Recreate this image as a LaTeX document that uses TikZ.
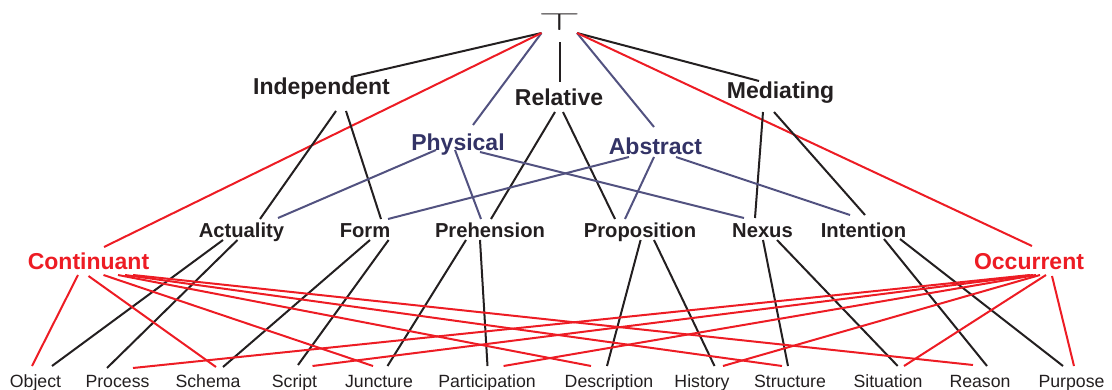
\documentclass[tikz,border=0pt]{standalone}
\usepackage{fontspec}
\setmainfont{Liberation Sans}
\usepackage{graphicx}

\definecolor{ink}{RGB}{35,31,32}
\definecolor{occred}{RGB}{237,28,36}
\definecolor{slatetext}{RGB}{51,51,102}
\definecolor{slateline}{RGB}{82,82,128}

\tikzset{
  lbl/.style={anchor=base, inner sep=0pt},
  upper/.style={lbl, text=ink, font=\fontsize{23}{23}\selectfont\bfseries},
  blue/.style={lbl, text=slatetext, font=\fontsize{23}{23}\selectfont\bfseries},
  redcat/.style={lbl, text=occred, font=\fontsize{23}{23}\selectfont\bfseries},
  middle/.style={lbl, text=ink, font=\fontsize{20.2}{20.2}\selectfont\bfseries},
  leaf/.style={lbl, text=ink, font=\fontsize{17.7}{17.7}\selectfont},
  blackedge/.style={draw=ink, line width=2pt},
  blueedge/.style={draw=slateline, line width=2pt},
  rededge/.style={draw=occred, line width=2pt},
}

\begin{document}
\begin{tikzpicture}[x=1pt, y=-1pt]
\useasboundingbox (0,0) rectangle (1112,390);

% top of the lattice
\node[anchor=south, inner sep=0pt, text=ink] (top) at (559.5,30.5)
  {\scalebox{2.2}[1]{\fontsize{25}{25}\selectfont$\top$}};

% second level
\node[upper] (ind) at (321.5,95) {Independent};
\node[upper] (rel) at (559,106) {Relative};
\node[upper] (med) at (780.5,99) {Mediating};
\node[blue]  (phy) at (458,151) {Physical};
\node[blue]  (abs) at (655.5,155) {Abstract};
\node[redcat] (con) at (88.5,270) {Continuant};
\node[redcat] (occ) at (1029,270) {Occurrent};

% third level
\node[middle] (act) at (241.5,238) {Actuality};
\node[middle] (frm) at (365,238) {Form};
\node[middle] (pre) at (490,238) {Prehension};
\node[middle] (pro) at (640,238) {Proposition};
\node[middle] (nex) at (762.5,238) {Nexus};
\node[middle] (int) at (863.5,238) {Intention};

% the twelve categories
\node[leaf] (obj) at (35.5,387) {Object};
\node[leaf] (prc) at (117.5,387) {Process};
\node[leaf] (sch) at (208,387) {Schema};
\node[leaf] (scr) at (294.5,387) {Script};
\node[leaf] (jun) at (379,387) {Juncture};
\node[leaf] (par) at (487,387) {Participation};
\node[leaf] (des) at (609,387) {Description};
\node[leaf] (his) at (702,387) {History};
\node[leaf] (str) at (790,387) {Structure};
\node[leaf] (sit) at (888,387) {Situation};
\node[leaf] (rea) at (980,387) {Reason};
\node[leaf] (pur) at (1071.5,387) {Purpose};

% edges from the top
\draw[blackedge] ([shift={(-18,2.5)}]top.south) -- ([shift={(29.5,-18)}]ind.base);
\draw[blackedge] ([shift={(0.5,12)}]top.south) -- ([shift={(1,-24)}]rel.base);
\draw[blackedge] ([shift={(17.5,2.5)}]top.south) -- ([shift={(-21.5,-18)}]med.base);
\draw[blueedge] ([shift={(-18,2.5)}]top.south) -- ([shift={(15,-26)}]phy.base);
\draw[blueedge] ([shift={(17.5,2.5)}]top.south) -- ([shift={(-1.5,-28)}]abs.base);
\draw[rededge] ([shift={(-18,2.5)}]top.south) -- ([shift={(15.5,-23)}]con.base);
\draw[rededge] ([shift={(17.5,2.5)}]top.south) -- ([shift={(3,-24)}]occ.base);

% black edges
\foreach \a/\ax/\ay/\b/\bx/\by in {
  ind/14.5/16/act/18.5/-19, ind/24.5/16/frm/16/-19,
  rel/-4/6/pre/1/-19, rel/4/6/pro/-25/-19,
  med/-17.5/13/nex/-7.5/-20, med/-6.5/13/int/1.5/-23,
  act/-18.5/2/obj/16.5/-21, act/-4/2/prc/-10.5/-19,
  frm/5/2/sch/15/-20, frm/23.6/2/scr/3.5/-22,
  pre/-24/2/jun/8.5/-21, pre/-10/2/par/0.5/-21,
  pro/0.6/2/des/-2/-21, pro/14/2/his/12.5/-21,
  nex/0.5/2/str/-2/-21, nex/14.5/2/sit/9.7/-21,
  int/20.5/1/rea/7/-21, int/36.5/1/pur/-8.5/-21}
  \draw[blackedge] ([shift={(\ax,\ay)}]\a.base) -- ([shift={(\bx,\by)}]\b.base);

% physical / abstract edges
\foreach \a/\ax/\ay/\b/\bx/\by in {
  phy/-22/-1/act/36.5/-20, phy/-3/-1/pre/-9/-19, phy/22/1/nex/-18.5/-20,
  abs/-26.5/2/frm/23/-19, abs/-1.5/2/pro/-15/-19, abs/20.5/2/int/-13.5/-23}
  \draw[blueedge] ([shift={(\ax,\ay)}]\a.base) -- ([shift={(\bx,\by)}]\b.base);

% continuant / occurrent edges
\foreach \a/\ax/\ay/\b/\bx/\by in {
  con/-10.5/5/obj/-3.5/-21, con/0/6/sch/8/-20, con/15/5/jun/-6/-21,
  con/29.5/5/des/-18/-21, con/36.5/5/str/-8/-21, con/44.5/5/rea/-7/-22,
  occ/1/5/prc/15.5/-19, occ/4/5/scr/18/-21, occ/7/5/par/16.6/-21,
  occ/11/5/his/21/-21, occ/17/5/sit/16/-21, occ/23/6/pur/2.5/-21}
  \draw[rededge] ([shift={(\ax,\ay)}]\a.base) -- ([shift={(\bx,\by)}]\b.base);

\end{tikzpicture}
\end{document}
